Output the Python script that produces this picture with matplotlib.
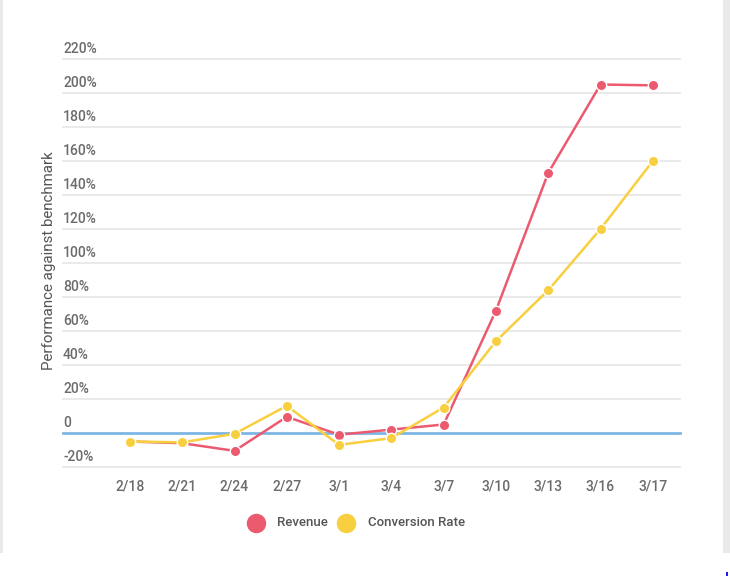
import matplotlib.pyplot as plt
import matplotlib.patches as mpatches
import matplotlib.transforms as mtransforms

# data
dates = ["2/18", "2/21", "2/24", "2/27", "3/1", "3/4", "3/7", "3/10", "3/13", "3/16", "3/17"]
revenue = [-5, -6, -10.5, 9.5, -1, 2, 5, 72, 153, 205, 204.5]
conversion = [-5, -5.5, -0.5, 16, -7, -3, 15, 54, 84, 120, 160]
y_ticks = [-20, 0, 20, 40, 60, 80, 100, 120, 140, 160, 180, 200, 220]

red = "#EC5A70"
yellow = "#F8CF3E"
blue = "#7DB6E4"
grid_col = "#E6E6E6"
txt_col = "#6B6B6B"

plt.rcParams["font.family"] = ["Roboto", "DejaVu Sans"]

W, H = 730, 576
fig = plt.figure(figsize=(W / 100, H / 100), dpi=100)
fig.patch.set_facecolor("white")

# card edges (light shadow)
fig.add_artist(mpatches.Rectangle((0, 1 - 553 / H), 3 / W, 553 / H,
                                  transform=fig.transFigure, color="#E9E9E9", lw=0))
fig.add_artist(mpatches.Rectangle((723 / W, 1 - 553 / H), 7 / W, 553 / H,
                                  transform=fig.transFigure, color="#E9E9E9", lw=0))
# tiny blue mark in the bottom-right corner
fig.add_artist(mpatches.Rectangle((726 / W, 0), 2 / W, 4 / H,
                                  transform=fig.transFigure, color="#1A1AFF", lw=0))

left, right = 63 / W, 680 / W
top_px, bot_px = 59, 467
ax = fig.add_axes([left, 1 - bot_px / H, right - left, (bot_px - top_px) / H])
ax.set_facecolor("none")
for s in ax.spines.values():
    s.set_visible(False)

x = list(range(len(dates)))
ax.set_xlim(-1.28, len(dates) - 1 + 0.52)
ax.set_ylim(-20, 220)

# gridlines and labels above them
trans = mtransforms.blended_transform_factory(ax.transAxes, ax.transData)
for v in y_ticks:
    if v == 0:
        continue
    ax.axhline(v, color=grid_col, lw=1.2, zorder=0, clip_on=False)
for v in y_ticks:
    lab = "0" if v == 0 else f"{v}%"
    ax.text(0.0, v + 1.6, lab, transform=trans, ha="left", va="bottom",
            fontsize=10, color=txt_col, fontweight="medium")
ax.axhline(0, color=blue, lw=2, zorder=1, clip_on=False)

ax.set_yticks([])
ax.set_xticks(x)
ax.set_xticklabels(dates, fontsize=10, color=txt_col, fontweight="medium")
ax.tick_params(axis="x", length=0, pad=9)

ax.plot(x, revenue, color=red, lw=1.8, marker="o", ms=7.5,
        mec="white", mew=1, zorder=3, clip_on=False, label="Revenue")
ax.plot(x, conversion, color=yellow, lw=1.8, marker="o", ms=7.5,
        mec="white", mew=1, zorder=4, clip_on=False, label="Conversion Rate")

fig.text(49 / W, 1 - 261 / H, "Performance against benchmark", rotation=90,
         ha="center", va="center", fontsize=10.9, color="#555555")

# legend
fig.lines.append(plt.Line2D([256 / W], [1 - 523 / H], transform=fig.transFigure,
                            marker="o", ms=13, color=red, lw=0))
fig.text(277 / W, 1 - 523 / H, "Revenue", ha="left", va="center", fontsize=9.5,
         color="#555555", fontweight="medium")
fig.lines.append(plt.Line2D([346 / W], [1 - 523 / H], transform=fig.transFigure,
                            marker="o", ms=13, color=yellow, lw=0))
fig.text(368 / W, 1 - 523 / H, "Conversion Rate", ha="left", va="center", fontsize=9.5,
         color="#555555", fontweight="medium")

fig.savefig("out.png", dpi=100)
